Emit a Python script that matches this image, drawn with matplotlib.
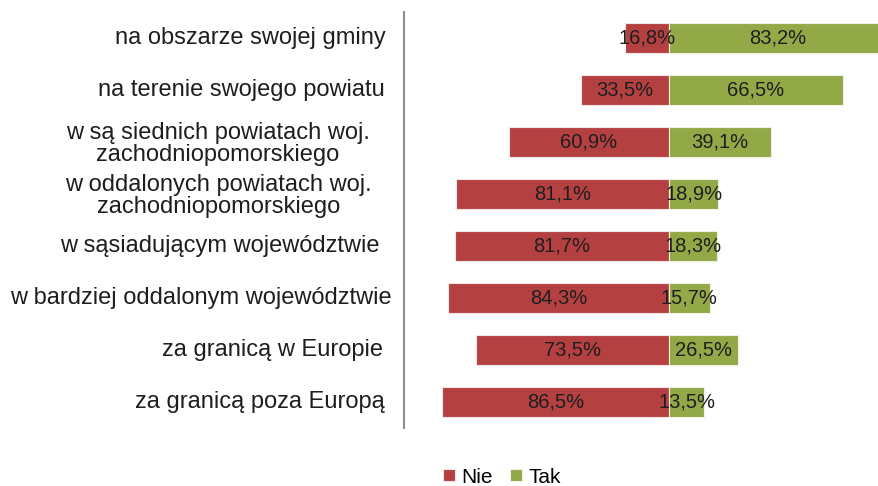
import numpy as np
import matplotlib.pyplot as plt

plt.rcParams['font.family'] = ['Liberation Sans', 'DejaVu Sans']

categories = [
    'na obszarze swojej gminy',
    'na terenie swojego powiatu',
    'w są siednich powiatach woj.\nzachodniopomorskiego',
    'w oddalonych powiatach woj.\nzachodniopomorskiego',
    'w sąsiadującym województwie',
    'w bardziej oddalonym województwie',
    'za granicą w Europie',
    'za granicą poza Europą',
]
nie = [16.8, 33.5, 60.9, 81.1, 81.7, 84.3, 73.5, 86.5]
tak = [83.2, 66.5, 39.1, 18.9, 18.3, 15.7, 26.5, 13.5]

RED = '#B54042'
GREEN = '#93A847'
W, H = 879, 486

fig = plt.figure(figsize=(W / 100, H / 100), dpi=100)
# plot area runs past the right edge of the picture, like the cropped original
x0, x1 = 404, 669 + 2.62 * 101
y_top, y_bot = 12, 428
ax = fig.add_axes([x0 / W, 1 - y_bot / H, (x1 - x0) / W, (y_bot - y_top) / H])

y = np.arange(len(categories))
ax.barh(y, [-v for v in nie], height=0.58, color=RED, edgecolor='#f2e6e6', linewidth=0.8, label='Nie')
ax.barh(y, tak, height=0.58, color=GREEN, edgecolor='#eef2e4', linewidth=0.8, label='Tak')

for i in range(len(categories)):
    ax.text(-nie[i] / 2, i, f'{nie[i]:.1f}%'.replace('.', ','), ha='center', va='center',
            fontsize=14.5, color='#1e1e1e')
    ax.text(tak[i] / 2, i, f'{tak[i]:.1f}%'.replace('.', ','), ha='center', va='center',
            fontsize=14.5, color='#1e1e1e')

ax.set_xlim(-101, 101)
ax.set_ylim(len(categories) - 0.5, -0.5)
ax.set_xticks([])
ax.set_yticks([])
for side in ['top', 'right', 'bottom']:
    ax.spines[side].set_visible(False)
ax.spines['left'].set_color('#8c8c8c')
ax.spines['left'].set_linewidth(1.5)

label_right = [386, 385, 370, 372, 380, 392, 383, 385]
label_dy = [0, 0, -2, -2, 0, 0, 0, 0]
for i, lab in enumerate(categories):
    ax.annotate(lab, xy=(0, i), xycoords=('axes fraction', 'data'),
                xytext=(label_right[i] - x0, label_dy[i]), textcoords='offset pixels',
                ha='right', va='center', multialignment='center',
                fontsize=17, color='#1e1e1e', linespacing=1.0)

fig.legend(loc='center', bbox_to_anchor=(502 / W, 1 - 477 / H), ncol=2, frameon=False,
           fontsize=15, handlelength=0.55, handleheight=0.55, handletextpad=0.3, columnspacing=0.85)

fig.savefig('out.png', dpi=100)
